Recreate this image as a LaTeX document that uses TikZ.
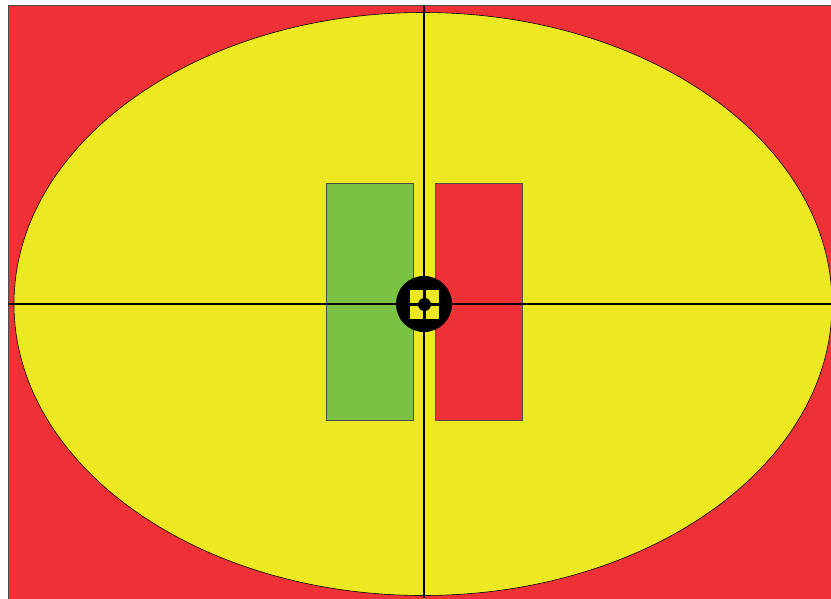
\documentclass[tikz,border=0pt]{standalone}
\definecolor{tred}{HTML}{EE3136}
\definecolor{tyel}{HTML}{ECE822}
\definecolor{tgrn}{HTML}{7BC143}
\begin{document}
\begin{tikzpicture}[x=1pt,y=-1pt,
  thin outline/.style={draw=black!70,line width=0.6pt},
  axis/.style={draw=black,line width=2pt}]
\useasboundingbox (0,0) rectangle (831,598);
\fill[white] (0,0) rectangle (831,598);
\clip (0,0) rectangle (831,598);
% background red
\filldraw[fill=tred,thin outline] (8,5.5) rectangle (840,610);
% ellipse
\filldraw[fill=tyel,draw=black,line width=0.6pt] (423,304) ellipse [x radius=409, y radius=291.5];
% rectangles
\filldraw[fill=tgrn,thin outline] (326,183) rectangle (413,420);
\filldraw[fill=tred,thin outline] (435,183) rectangle (522,420);
% axes
\coordinate (L) at (8,304);
\coordinate (R) at (831,304);
\coordinate (T) at (424,5.5);
\coordinate (B) at (424,598);
\coordinate (C) at (424,304);
\draw[axis] (L) -- (R);
\draw[axis] (T) -- (B);
% center target
\fill[black] (C) circle [radius=28];
\fill[tyel] (410,290) rectangle (439,319);
\draw[black,line width=3.5pt] (410,304.5) -- (439,304.5);
\draw[black,line width=3.5pt] (424.5,290) -- (424.5,319);
\fill[black] (424.5,304.5) circle [radius=6.5];
\end{tikzpicture}
\end{document}
